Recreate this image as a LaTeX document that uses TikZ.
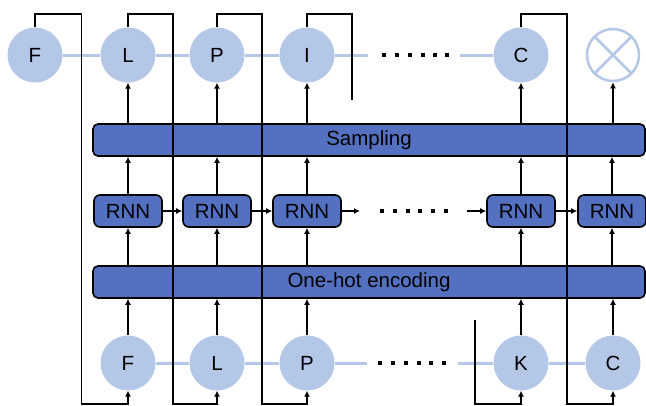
\documentclass[tikz,border=0pt]{standalone}
\usepackage{fontspec}
\setmainfont{Liberation Sans}
\usetikzlibrary{arrows.meta}
\definecolor{lblue}{RGB}{180,199,231}
\definecolor{dblue}{RGB}{84,112,192}
\begin{document}
\begin{tikzpicture}[x=1pt,y=-1pt,
  tok/.style={circle,fill=lblue,minimum size=55pt,inner sep=0pt,font=\fontsize{20.5}{24}\selectfont},
  endtok/.style={circle,draw=lblue,line width=2.5pt,minimum size=52pt,inner sep=0pt},
  bar/.style={rectangle,rounded corners=5pt,draw=black,line width=1.6pt,fill=dblue,minimum width=552pt,minimum height=32pt,inner sep=0pt,font=\fontsize{20.5}{24}\selectfont},
  rnn/.style={rectangle,rounded corners=6pt,draw=black,line width=1.6pt,fill=dblue,minimum width=68pt,minimum height=32pt,inner sep=0pt,font=\fontsize{20.5}{24}\selectfont},
  link/.style={lblue,line width=3pt},
  wire/.style={black,line width=1.8pt},
  arr/.style={black,line width=1.8pt,-{Latex[length=6pt,width=6pt]}},
  dot/.style={fill=black,inner sep=0pt,minimum size=3.5pt,rectangle}
]
\useasboundingbox (0,0) rectangle (646,405);
% top tokens
\node[tok] (tF) at (35,55) {F};
\node[tok] (tL) at (128,55) {L};
\node[tok] (tP) at (217,55) {P};
\node[tok] (tI) at (307,55) {I};
\node[tok] (tC) at (521,55) {C};
\node[endtok] (tX) at (613,55) {};
\draw[lblue,line width=2.5pt] (tX.north west) -- (tX.south east) (tX.north east) -- (tX.south west);
% bottom tokens
\node[tok] (bF) at (128,363) {F};
\node[tok] (bL) at (217,363) {L};
\node[tok] (bP) at (307,363) {P};
\node[tok] (bK) at (521,363) {K};
\node[tok] (bC) at (613,363) {C};
% bars
\node[bar] (samp) at (369,140) {Sampling};
\node[bar] (onehot) at (369,282) {One-hot encoding};
% rnn
\node[rnn] (r1) at (128,211) {RNN};
\node[rnn] (r2) at (217,211) {RNN};
\node[rnn] (r3) at (307,211) {RNN};
\node[rnn] (r5) at (521,211) {RNN};
\node[rnn] (r6) at (612,211) {RNN};
% light links
\coordinate (tgapL) at (368,55);
\coordinate (tgapR) at (460,55);
\coordinate (bgapL) at (367,363);
\coordinate (bgapR) at (458,363);
\draw[link] (tF.east) -- (tL.west) (tL.east) -- (tP.west) (tP.east) -- (tI.west)
  (tI.east) -- (tgapL) (tgapR) -- (tC.west);
\draw[link] (bF.east) -- (bL.west) (bL.east) -- (bP.west) (bP.east) -- (bgapL)
  (bgapR) -- (bK.west) (bK.east) -- (bC.west);
% dots
\foreach \x in {384,397,410,423,435,447} \node[dot] at (\x,55) {};
\foreach \x in {380,393,406,419,431,444} \node[dot] at (\x,363) {};
\foreach \x in {382,395,408,420,433,446} \node[dot] at (\x,211) {};
% vertical arrows
\foreach \b/\r/\t in {bF/r1/tL, bL/r2/tP, bP/r3/tI, bK/r5/tC, bC/r6/tX}{
  \draw[arr] (\b.north) -- (\b |- onehot.south);
  \draw[arr] (\r |- onehot.north) -- (\r.south);
  \draw[arr] (\r.north) -- (\r |- samp.south);
  \draw[arr] (\t |- samp.north) -- (\t.south);
}
% rnn horizontal
\coordinate (rgapL) at (360,211);
\coordinate (rgapR) at (467,211);
\draw[arr] (r1.east) -- (r2.west);
\draw[arr] (r2.east) -- (r3.west);
\draw[arr] (r3.east) -- (rgapL);
\draw[arr] (rgapR) -- (r5.west);
\draw[arr] (r5.east) -- (r6.west);
% feedback wires
\draw[arr] (tF.north) |- (81.5,14) -- (81.5,404) -| (bF.south);
\draw[arr] (tL.north) |- (173,14) -- (173,404) -| (bL.south);
\draw[arr] (tP.north) |- (262,14) -- (262,404) -| (bP.south);
\coordinate (iend) at (352,100);
\draw[wire] (tI.north) |- (352,14) -- (iend);
\draw[arr] (tC.north) |- (567,14) -- (567,404) -| (bC.south);
\coordinate (kstart) at (475,320);
\draw[arr] (kstart) -- (475,404) -| (bK.south);
\end{tikzpicture}
\end{document}
